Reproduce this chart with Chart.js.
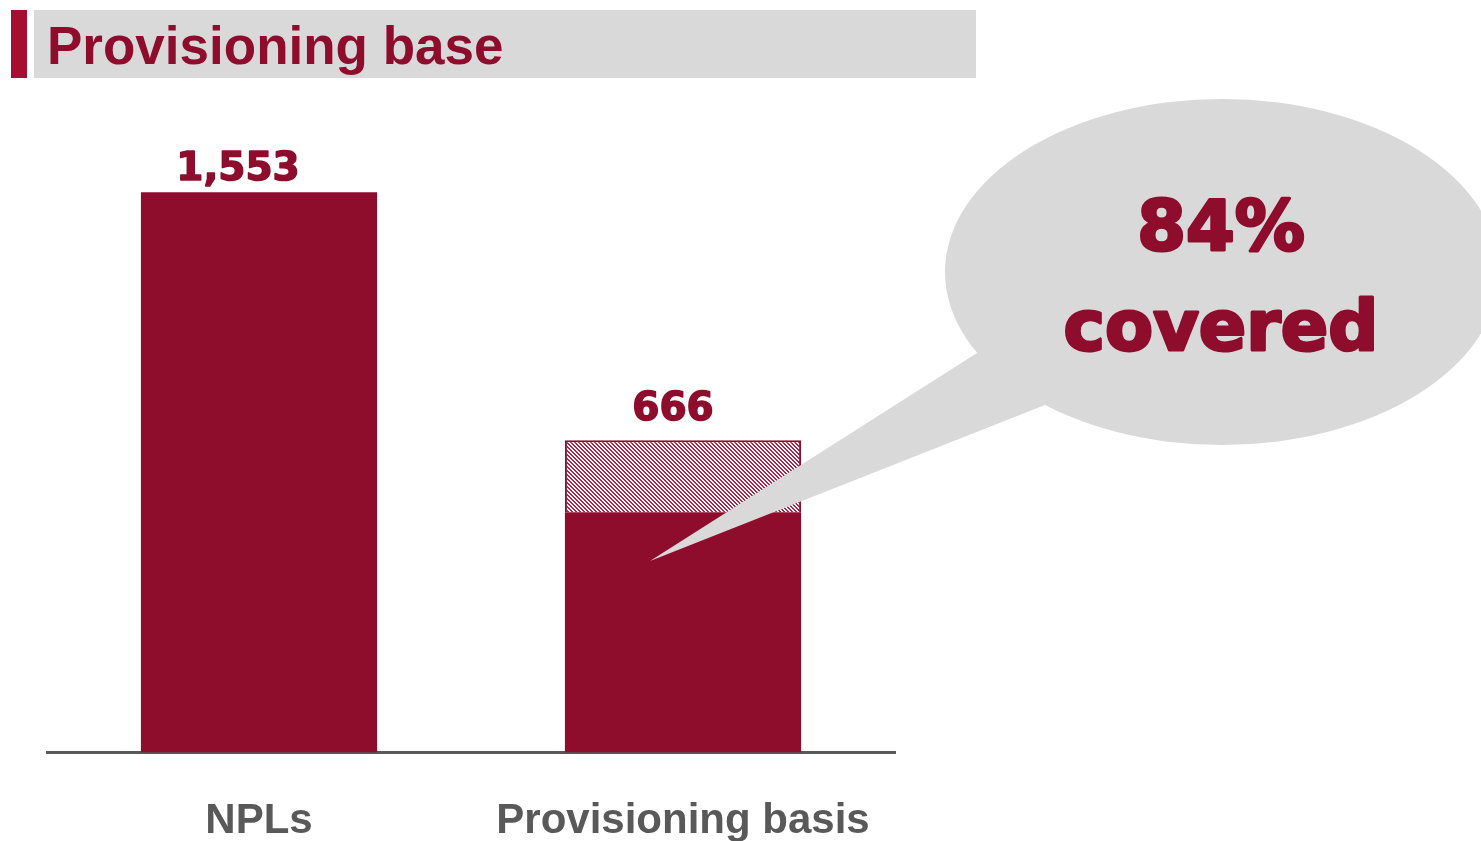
<!DOCTYPE html>
<html>
<head>
<meta charset="utf-8">
<script src="https://cdn.jsdelivr.net/npm/chart.js@4.4.1/dist/chart.umd.min.js"></script>
<style>
  html, body { margin: 0; padding: 0; background: #fff; overflow: hidden; }
  #wrap { position: relative; width: 1481px; height: 841px; overflow: hidden; }
  #accent { position: absolute; left: 11px; top: 10px; width: 16px; height: 68px; background: #A50E30; }
  #title { position: absolute; left: 34px; top: 10px; width: 942px; height: 68px; background: #D9D9D9;
           font: bold 53px "Liberation Sans", Arial, sans-serif; color: #8E0C2C; line-height: 72px;
           padding-left: 13px; box-sizing: border-box; }
  canvas { position: absolute; left: 0; top: 0; }
</style>
</head>
<body>
<div id="wrap">
  <canvas id="chart" width="1481" height="891"></canvas>
  <div id="accent"></div>
  <div id="title">Provisioning base</div>
</div>
<script>
var categories = ['NPLs', 'Provisioning basis'];
var solid_values = [1553, 666];
var hatched_values = [null, 200];
var value_labels = ['1,553', '666'];
var bubble_lines = ['84%', 'covered'];

var red = '#8E0C2C';
var grey = '#595959';

// diagonal hatch tile for the upper part of the second bar
function hatch_pattern(ctx) {
    var c = document.createElement('canvas');
    c.width = 4; c.height = 4;
    var g = c.getContext('2d');
    g.fillStyle = '#ffffff';
    g.fillRect(0, 0, 4, 4);
    g.fillStyle = '#A8284A';
    for (var y = 0; y < 4; y++) {
        for (var x = 0; x < 4; x++) {
            var d = ((x - y) % 4 + 4) % 4;
            if (d < 2) g.fillRect(x, y, 1, 1);
        }
    }
    return ctx.createPattern(c, 'repeat');
}

// heavy text: fill plus a stroke of the same colour
function heavy_text(ctx, txt, x, y, w) {
    ctx.lineWidth = w;
    ctx.lineJoin = 'round';
    ctx.strokeText(txt, x, y);
    ctx.fillText(txt, x, y);
}

var labelPlugin = {
    id: 'labels',
    afterDatasetsDraw: function(chart) {
        var ctx = chart.ctx;
        var x = chart.scales.x, y = chart.scales.y;
        ctx.save();

        // speech bubble
        ctx.fillStyle = '#D9D9D9';
        ctx.beginPath();
        ctx.ellipse(1222, 272, 277, 173, 0, 0, Math.PI * 2);
        ctx.fill();
        ctx.beginPath();
        ctx.moveTo(977, 353);
        ctx.lineTo(1045, 405);
        ctx.lineTo(650, 561);
        ctx.closePath();
        ctx.fill();

        ctx.fillStyle = red;
        ctx.strokeStyle = red;
        ctx.textAlign = 'center';
        ctx.textBaseline = 'alphabetic';
        ctx.font = 'bold 70px "DejaVu Sans"';
        heavy_text(ctx, bubble_lines[0], 1221, 250, 3);
        heavy_text(ctx, bubble_lines[1], 1221, 350, 3);

        // value labels above each stack
        ctx.font = 'bold 39px "DejaVu Sans"';
        var shift = [-21, -10];
        for (var i = 0; i < categories.length; i++) {
            var total = solid_values[i] + (hatched_values[i] || 0);
            var gap = hatched_values[i] ? 20 : 12;
            heavy_text(ctx, value_labels[i], x.getPixelForValue(i) + shift[i], y.getPixelForValue(total) - gap, 1.5);
        }
        ctx.restore();
    }
};

var ctx = document.getElementById('chart').getContext('2d');
var data = {
    labels: categories,
    datasets: [{
        label: 'Covered',
        data: solid_values,
        backgroundColor: red,
        borderWidth: 0
    }, {
        label: 'Uncovered',
        data: hatched_values,
        backgroundColor: hatch_pattern(ctx),
        borderColor: red,
        borderWidth: 2,
        borderSkipped: 'bottom'
    }]
};

var config = {
    type: 'bar',
    data: data,
    options: {
        responsive: false,
        animation: false,
        layout: { padding: { left: 47, right: 586, top: 31, bottom: 0 } },
        datasets: { bar: { categoryPercentage: 1, barPercentage: 0.557 } },
        plugins: { legend: { display: false }, tooltip: { enabled: false } },
        scales: {
            x: {
                stacked: true,
                grid: { display: false, drawTicks: false },
                border: { display: true, color: grey, width: 3 },
                ticks: {
                    color: grey,
                    padding: 44,
                    font: { family: '"Liberation Sans", Arial', size: 42, weight: 'bold' }
                }
            },
            y: {
                stacked: true,
                display: false,
                min: 0,
                max: 2000
            }
        }
    },
    plugins: [labelPlugin]
};
var myChart = new Chart(ctx, config);
</script>
</body>
</html>
